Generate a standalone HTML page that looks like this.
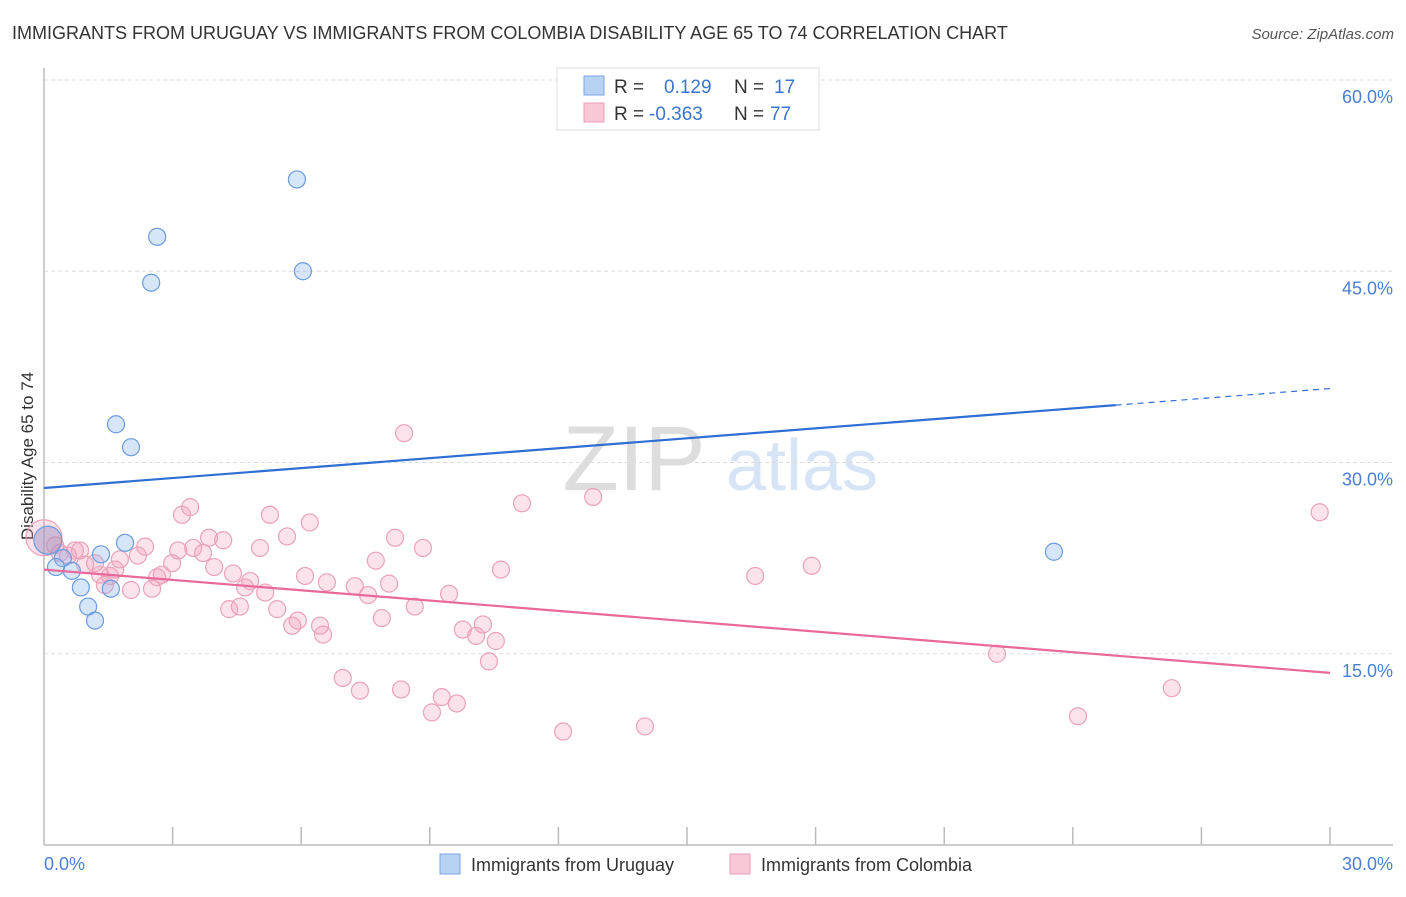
<!DOCTYPE html>
<html><head><meta charset="utf-8"><style>
body{margin:0;background:#fff;font-family:"Liberation Sans",sans-serif;}
svg text{font-family:"Liberation Sans",sans-serif;}
</style></head><body>
<svg id="chart" width="1406" height="892" viewBox="0 0 1406 892" xmlns="http://www.w3.org/2000/svg">
<text x="12" y="39" font-size="18" fill="#333">IMMIGRANTS FROM URUGUAY VS IMMIGRANTS FROM COLOMBIA DISABILITY AGE 65 TO 74 CORRELATION CHART</text>
<text x="1394" y="39" font-size="15" fill="#555" text-anchor="end" font-style="italic">Source: ZipAtlas.com</text>
<g>
<text x="634" y="490" font-size="92" fill="#ddd" text-anchor="middle" font-family="Liberation Serif,serif">ZIP</text>
<text x="802" y="490" font-size="72" fill="#d6e4f5" text-anchor="middle">atlas</text>
</g>
<g id="grid"></g>
<line x1="44" y1="68" x2="44" y2="845" stroke="#bbb" stroke-width="1.5"/>
<line x1="44" y1="845" x2="1393" y2="845" stroke="#bbb" stroke-width="1.5"/>
<g id="ticks"></g>
<text transform="translate(33,456) rotate(-90)" font-size="17" fill="#333" text-anchor="middle">Disability Age 65 to 74</text>
<text x="44" y="870" font-size="18" fill="#4a7fd4">0.0%</text>
<text x="1393" y="870" font-size="18" fill="#4a7fd4" text-anchor="end">30.0%</text>
<g id="pts"></g>
<g id="trend"></g>
<g>
<rect x="557" y="68" width="262" height="62" fill="#fff" stroke="#ddd"/>
<rect x="584" y="76" width="20" height="19" fill="#b8d2f4" stroke="#7aa6e2"/>
<rect x="584" y="103" width="20" height="19" fill="#f8c8d6" stroke="#eb9db5"/>
<text x="614" y="93" font-size="19" fill="#333">R =</text>
<text x="664" y="93" font-size="19" fill="#3a75d0">0.129</text>
<text x="734" y="93" font-size="19" fill="#333">N =</text>
<text x="774" y="93" font-size="19" fill="#3a75d0">17</text>
<text x="614" y="120" font-size="19" fill="#333">R =</text>
<text x="649" y="120" font-size="19" fill="#3a75d0">-0.363</text>
<text x="734" y="120" font-size="19" fill="#333">N =</text>
<text x="770" y="120" font-size="19" fill="#3a75d0">77</text>
</g>
<g>
<rect x="440" y="854" width="20" height="20" fill="#b8d2f4" stroke="#7aa6e2"/>
<text x="471" y="871" font-size="18" fill="#333">Immigrants from Uruguay</text>
<rect x="730" y="854" width="20" height="20" fill="#f8c8d6" stroke="#eb9db5"/>
<text x="761" y="871" font-size="18" fill="#333">Immigrants from Colombia</text>
</g>
</svg>
<script>
const yTicks=[15,30,45,60];
const yTickLabels=["15.0%","30.0%","45.0%","60.0%"];
const xTicks=[3,6,9,12,15,18,21,24,27,30];
const uruguayX=[5.90,2.64,2.50,6.04,1.68,2.03,1.89,1.33,0.44,0.28,0.65,0.86,1.56,1.03,1.19,23.56,0.09];
const uruguayY=[52.2,47.7,44.1,45.0,33.0,31.2,23.7,22.8,22.5,21.8,21.5,20.2,20.1,18.7,17.6,23.0,23.9];
const colombiaX=[3.41,3.22,5.27,6.20,5.67,8.19,3.85,4.18,2.36,5.04,8.84,3.13,3.71,3.48,2.19,7.74,2.99,3.97,6.09,4.41,2.75,2.64,4.81,6.60,7.25,8.05,4.69,2.52,2.03,5.16,7.56,9.45,10.66,8.65,4.57,4.32,5.44,7.88,5.92,5.79,6.44,9.77,10.24,10.08,10.54,6.51,10.38,6.97,7.37,8.33,9.28,9.63,9.05,12.11,14.02,8.40,11.15,12.81,16.59,17.91,22.23,24.12,26.31,29.76,0.0,0.37,0.72,1.19,1.54,1.77,0.56,0.96,1.31,1.42,1.66,0.26,0.84];
const colombiaY=[26.5,25.9,25.9,25.3,24.2,24.1,24.1,23.9,23.4,23.3,23.3,23.1,22.9,23.3,22.7,22.3,22.1,21.8,21.1,21.3,21.2,21.0,20.7,20.6,20.3,20.5,20.2,20.1,20.0,19.8,19.6,19.7,21.6,18.7,18.7,18.5,18.5,17.8,17.6,17.2,17.2,16.9,17.3,16.4,16.0,16.5,14.4,13.1,12.1,12.2,11.6,11.1,10.4,8.9,9.3,32.3,26.8,27.3,21.1,21.9,15.0,10.1,12.3,26.1,24.1,22.9,23.1,22.1,21.1,22.4,22.7,22.0,21.2,20.4,21.6,23.5,23.1];
const uruguayTrend=[28.0,35.8]; // y at x=0 and x=30
const colombiaTrend=[21.6,13.5];
const NS="http://www.w3.org/2000/svg";
const sx=v=>44+v/30*1286;
const sy=v=>845-v*12.75;
function mk(tag,attrs,parent){const e=document.createElementNS(NS,tag);for(const k in attrs)e.setAttribute(k,attrs[k]);document.getElementById(parent).appendChild(e);return e;}
yTicks.forEach((t,i)=>{
 const l=mk('line',{x1:44,x2:1393,y1:sy(t),y2:sy(t),stroke:'#ddd','stroke-dasharray':'4,3'},'grid');
 
 
 const tx=mk('text',{x:1393,y:sy(t)+23,'font-size':18,fill:'#4a7fd4','text-anchor':'end'},'grid');
 tx.textContent=yTickLabels[i];
 
 
});
{const l=mk('line',{x1:44,x2:1393,y1:sy(60),y2:sy(60),stroke:'#ddd','stroke-dasharray':'4,3'},'grid');}
xTicks.forEach(t=>{
 const l=mk('line',{x1:sx(t),x2:sx(t),y1:827,y2:845,stroke:'#bbb','stroke-width':1.5},'ticks');
 
 
});
colombiaX.forEach((x,i)=>{
 const big=x===0;
 const c=mk('circle',{cx:sx(x),cy:sy(colombiaY[i]),r:big?18:8.5,fill:'rgba(243,160,188,0.3)',stroke:'#eba2ba','stroke-width':1.2},'pts');
 
 
});
uruguayX.forEach((x,i)=>{
 const big=i===16;
 const c=mk('circle',{cx:sx(x),cy:sy(uruguayY[i]),r:big?14:8.5,fill:big?'rgba(150,140,190,0.45)':'rgba(140,180,235,0.35)',stroke:'#6a9be0','stroke-width':1.2},'pts');
 
 
});
const ub=uruguayTrend[0]+(uruguayTrend[1]-uruguayTrend[0])*25/30;
let l1=mk('line',{x1:sx(0),y1:sy(uruguayTrend[0]),x2:sx(25),y2:sy(ub),stroke:'#2f6fd4','stroke-width':2.2},'trend');


let l2=mk('line',{x1:sx(25),y1:sy(ub),x2:sx(30),y2:sy(uruguayTrend[1]),stroke:'#2f6fd4','stroke-width':1.2,'stroke-dasharray':'6,5'},'trend');


let l3=mk('line',{x1:sx(0),y1:sy(colombiaTrend[0]),x2:sx(30),y2:sy(colombiaTrend[1]),stroke:'#e8699a','stroke-width':2.2},'trend');


</script>
</body></html>
